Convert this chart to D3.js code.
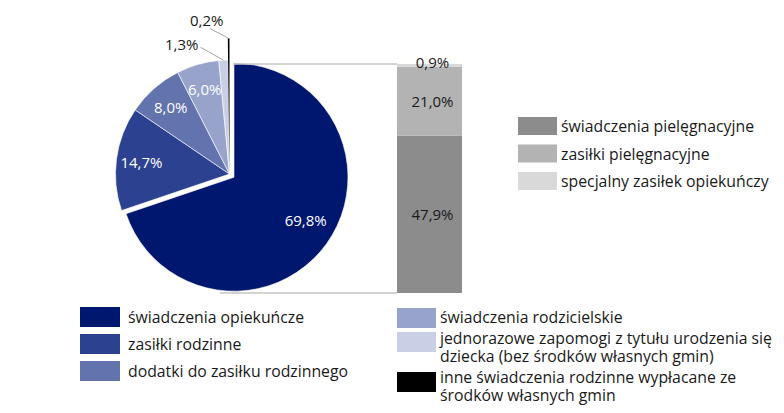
<!DOCTYPE html>
<html><head><meta charset="utf-8">
<script src="https://cdn.jsdelivr.net/npm/d3@7/dist/d3.min.js"></script>
<style>body{margin:0;background:#fff}svg{display:block}text{font-family:"Open Sans",sans-serif}</style>
</head><body><svg id="c" width="784" height="413"></svg>
<script>
// ---- data ----
const pieLabels = ["świadczenia opiekuńcze","zasiłki rodzinne","dodatki do zasiłku rodzinnego","świadczenia rodzicielskie","jednorazowe zapomogi z tytułu urodzenia się dziecka (bez środków własnych gmin)","inne świadczenia rodzinne wypłacane ze środków własnych gmin"];
const pieValues = [69.8, 14.7, 8.0, 6.0, 1.3, 0.2];
const pieText = ["69,8%","14,7%","8,0%","6,0%","1,3%","0,2%"];
const pieColors = ["#00176f","#2d4191","#6373ad","#97a3cb","#c9cfe5","#000000"];
const barLabels = ["świadczenia pielęgnacyjne","zasiłki pielęgnacyjne","specjalny zasiłek opiekuńczy"];
const barValues = [47.9, 21.0, 0.9];
const barText = ["47,9%","21,0%","0,9%"];
const barColors = ["#8c8c8c","#b3b3b3","#d9d9d9"];

const svg = d3.select("#c");
const cx = 229.5, cy = 174, R = 114, explode = 5.5;
const LFS = 15.8, VFS = 15;

const pie = d3.pie().sort(null).value(d => d)(pieValues);
const arc = d3.arc().innerRadius(0);

const g = svg.append("g").attr("transform", `translate(${cx},${cy})`);
pie.forEach((d, i) => {
  let dx = 0, dy = 0;
  if (i === 0) {
    const m = (d.startAngle + d.endAngle) / 2;
    dx = explode * Math.sin(m); dy = -explode * Math.cos(m);
  }
  const outer = i === 5 ? R * 1.19 : R;
  g.append("path")
    .attr("transform", `translate(${dx},${dy})`)
    .attr("d", arc.outerRadius(outer)(d))
    .attr("fill", pieColors[i])
    .attr("stroke", i === 5 ? "none" : "#fff")
    .attr("stroke-width", 0.6);
  const m = (d.startAngle + d.endAngle) / 2;
  if (i < 4) {
    const lr = i === 0 ? R * 0.72 : R * 0.78;
    g.append("text")
      .attr("x", dx + lr * Math.sin(m) + (i === 0 ? 5 : 0))
      .attr("y", dy - lr * Math.cos(m) + (i === 0 ? -5 : 0))
      .attr("text-anchor", "middle").attr("dominant-baseline", "central")
      .attr("font-size", VFS).attr("fill", "#fff").text(pieText[i]);
  } else {
    const rr = i === 5 ? R * 1.19 : R;
    const sx = rr * Math.sin(m), sy = -rr * Math.cos(m);
    const off = i === 4 ? [-23, -13] : [-19, -10];
    g.append("line").attr("x1", sx).attr("y1", sy).attr("x2", sx + off[0]).attr("y2", sy + off[1])
      .attr("stroke", "#a6a6a6").attr("stroke-width", 1);
    if (i === 4) {
      g.append("text").attr("x", sx + off[0] - 2).attr("y", sy + off[1] - 3)
        .attr("text-anchor", "end").attr("dominant-baseline", "central")
        .attr("font-size", VFS).attr("fill", "#1a1a1a").text(pieText[i]);
    } else {
      g.append("text").attr("x", sx + off[0] - 3).attr("y", sy + off[1] - 8)
        .attr("text-anchor", "middle").attr("dominant-baseline", "central")
        .attr("font-size", VFS).attr("fill", "#1a1a1a").text(pieText[i]);
    }
  }
});

// ---- bar ----
const total = d3.sum(barValues);
const y = d3.scaleLinear().domain([0, total]).range([293, 64]);
const bx = 397, bw = 65;
const bigCx = cx + explode * Math.sin((pie[0].startAngle + pie[0].endAngle) / 2);
svg.append("line").attr("x1", bigCx - 1).attr("x2", bx).attr("y1", y(total)).attr("y2", y(total))
  .attr("stroke", "#c4c4c4").attr("stroke-width", 1.5);
svg.append("line").attr("x1", bigCx - 14).attr("x2", bx).attr("y1", y(0)).attr("y2", y(0))
  .attr("stroke", "#c4c4c4").attr("stroke-width", 1.5);
let acc = 0;
barValues.forEach((v, i) => {
  const y0 = y(acc), y1 = y(acc + v);
  svg.append("rect").attr("x", bx).attr("y", y1).attr("width", bw).attr("height", y0 - y1).attr("fill", barColors[i]);
  const ty = i === 2 ? y1 - 2 : (y0 + y1) / 2;
  svg.append("text").attr("x", bx + bw / 2 + 3).attr("y", ty)
    .attr("text-anchor", "middle").attr("dominant-baseline", "central")
    .attr("font-size", VFS).attr("fill", "#1a1a1a").text(barText[i]);
  acc += v;
});

// ---- right legend ----
barLabels.forEach((l, i) => {
  const yy = 117 + i * 27.5;
  svg.append("rect").attr("x", 518).attr("y", yy).attr("width", 39).attr("height", 18).attr("fill", barColors[i]);
  svg.append("text").attr("x", 561).attr("y", yy + 9).attr("dominant-baseline", "central")
    .attr("font-size", LFS).attr("fill", "#1a1a1a").text(l);
});

// ---- bottom legends ----
[0, 1, 2].forEach((k, i) => {
  const yy = 307 + i * 27;
  svg.append("rect").attr("x", 80).attr("y", yy).attr("width", 40).attr("height", 20).attr("fill", pieColors[k]);
  svg.append("text").attr("x", 128).attr("y", yy + 10).attr("dominant-baseline", "central")
    .attr("font-size", LFS).attr("fill", "#1a1a1a").text(pieLabels[k]);
});
const rightItems = [
  {k: 3, sy: 308, lines: ["świadczenia rodzicielskie"], ty: 317},
  {k: 4, sy: 332, lines: ["jednorazowe zapomogi z tytułu urodzenia się", "dziecka (bez środków własnych gmin)"], ty: 338},
  {k: 5, sy: 372, lines: ["inne świadczenia rodzinne wypłacane ze", "środków własnych gmin"], ty: 377}
];
rightItems.forEach(it => {
  svg.append("rect").attr("x", 397).attr("y", it.sy).attr("width", 39).attr("height", 20).attr("fill", pieColors[it.k]);
  const t = svg.append("text").attr("font-size", LFS).attr("fill", "#1a1a1a");
  it.lines.forEach((ln, j) => {
    t.append("tspan").attr("x", 440).attr("y", it.ty + j * 18).attr("dominant-baseline", "central").text(ln);
  });
});
</script></body></html>
